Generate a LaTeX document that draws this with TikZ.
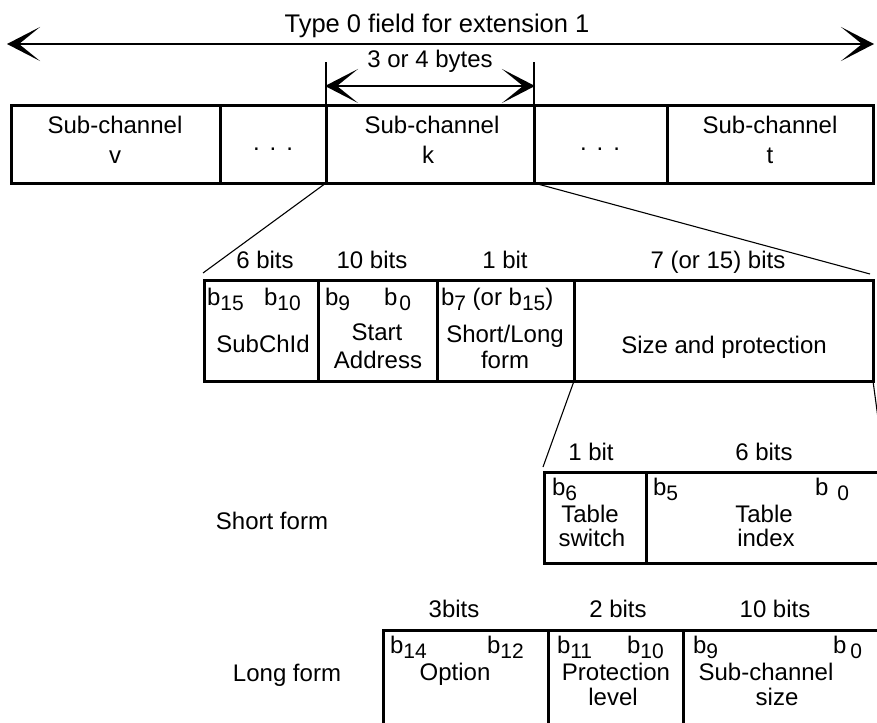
\documentclass[tikz,border=0pt]{standalone}
\usepackage{fontspec}
\setmainfont{Liberation Sans}
\usetikzlibrary{arrows.meta}
\newcommand{\bb}[1]{b\raisebox{-5pt}{\fontsize{21}{21}\selectfont #1}}
\newcommand{\bgap}[2]{b\hspace{#1}\raisebox{-5pt}{\fontsize{21}{21}\selectfont #2}}
\begin{document}
\begin{tikzpicture}[x=1pt,y=-1pt,
  cell/.style={draw, line width=3pt, inner sep=0pt, outer sep=0pt, anchor=north west},
  txt/.style={inner sep=0pt, outer sep=0pt, font=\fontsize{24}{28}\selectfont, anchor=base},
  txtw/.style={txt, anchor=base west},
  thinline/.style={line width=1.1pt},
  dimarrow/.style={line width=2.7pt,
    {Stealth[length=33pt,width=34pt,inset=21pt]}-{Stealth[length=33pt,width=34pt,inset=21pt]}}]
\useasboundingbox (0,0) rectangle (877,722);
\clip (0,0) rectangle (877,722);

% ---- top dimension arrows
\coordinate (a1l) at (7,44);
\coordinate (a1r) at (874,44);
\draw[dimarrow] (a1l) -- (a1r);
\node[txt, font=\fontsize{25.5}{30}\selectfont] (title) at (437,33) {Type 0 field for extension 1};

% ---- row 1
\node[cell, minimum width=209pt, minimum height=77pt] (v)  at (11,106) {};
\node[cell, minimum width=106pt, minimum height=77pt] (d1) at (220,106) {};
\node[cell, minimum width=208pt, minimum height=77pt] (k)  at (326,106) {};
\node[cell, minimum width=133pt, minimum height=77pt] (d2) at (534,106) {};
\node[cell, minimum width=206pt, minimum height=77pt] (t)  at (667,106) {};

\node[txt] (vt1) at (115,134) {Sub-channel};
\node[txt] (vt2) at (115,164) {v};
\node[txt] (d1t) at (273,151) {.\hspace{10pt}.\hspace{10pt}.};
\node[txt] (kt1) at (432,134) {Sub-channel};
\node[txt] (kt2) at (428,164) {k};
\node[txt] (d2t) at (600,151) {.\hspace{10pt}.\hspace{10pt}.};
\node[txt] (tt1) at (770,134) {Sub-channel};
\node[txt] (tt2) at (770,164) {t};

\coordinate (kl) at (326,62);
\coordinate (kr) at (534,62);
\draw[thinline] (k.north west) -- (kl);
\draw[thinline] (k.north east) -- (kr);
\coordinate (a2l) at (325,86);
\coordinate (a2r) at (535,86);
\draw[dimarrow] (a2l) -- (a2r);
\node[txt] (bytes) at (430,68) {3 or 4 bytes};

% ---- row 2
\node[cell, minimum width=114pt, minimum height=101pt] (sid) at (204,280) {};
\node[cell, minimum width=119pt, minimum height=101pt] (sa)  at (318,280) {};
\node[cell, minimum width=137pt, minimum height=101pt] (sl)  at (437,280) {};
\node[cell, minimum width=299pt, minimum height=101pt] (sp)  at (574,280) {};

\coordinate (l1) at (203,273);
\coordinate (r1) at (870,274);
\draw[thinline] (k.south west) -- (l1);
\draw[thinline] (k.south east) -- (r1);

\node[txt] (lb1) at (265,268) {6 bits};
\node[txt] (lb2) at (372,268) {10 bits};
\node[txt] (lb3) at (505,268) {1 bit};
\node[txt] (lb4) at (718,268) {7 (or 15) bits};

\node[txtw] (b15) at (207,305) {\bb{15}};
\node[txtw] (b10) at (264,305) {\bb{10}};
\node[txtw] (b9)  at (325,305) {\bb{9}};
\node[txtw] (b0)  at (384,305) {\bgap{2pt}{0}};
\node[txtw] (b7)  at (441,305) {\bb{7} (or \bb{15})};
\node[txt] (subchid) at (263,352) {SubChId};
\node[txt] (start) at (377,340) {Start};
\node[txt] (addr)  at (378,368) {Address};
\node[txt] (shl)   at (505,342) {Short/Long};
\node[txt] (form)  at (505,368) {form};
\node[txt] (sizep) at (724,353) {Size and protection};

% ---- short form
\node[cell, minimum width=102pt, minimum height=91pt] (ts) at (544,472) {};
\node[cell, minimum width=240pt, minimum height=91pt] (ti) at (646,472) {};
\coordinate (l2) at (543,467);
\coordinate (r2) at (885,470);
\draw[thinline] (sp.south west) -- (l2);
\draw[thinline] (sp.south east) -- (r2);

\node[txt] (sl1) at (591,460) {1 bit};
\node[txt] (sl2) at (764,460) {6 bits};
\node[txtw] (b6) at (552,495) {\bb{6}};
\node[txtw] (b5) at (653,495) {\bb{5}};
\node[txtw] (sb0) at (815,495) {\bgap{9pt}{0}};
\node[txt] (tab1) at (590,522) {Table};
\node[txt] (sw)   at (592,546) {switch};
\node[txt] (tab2) at (764,522) {Table};
\node[txt] (idx)  at (766,546) {index};
\node[txt] (shortf) at (272,529) {Short form};

% ---- long form
\node[cell, minimum width=165pt, minimum height=110pt] (op) at (383,630) {};
\node[cell, minimum width=135pt, minimum height=110pt] (pl) at (548,630) {};
\node[cell, minimum width=220pt, minimum height=110pt] (ss) at (683,630) {};

\node[txt] (ll1) at (454,617) {3bits};
\node[txt] (ll2) at (618,617) {2 bits};
\node[txt] (ll3) at (775,617) {10 bits};
\node[txtw] (b14) at (390,653) {\bb{14}};
\node[txtw] (b12) at (487,653) {\bb{12}};
\node[txtw] (b11) at (557,653) {\bb{11}};
\node[txtw] (lb10) at (627,653) {\bb{10}};
\node[txtw] (lb9) at (693,653) {\bb{9}};
\node[txtw] (lb0) at (833,653) {\bgap{4pt}{0}};
\node[txt] (opt)  at (455,680) {Option};
\node[txt] (prot) at (616,680) {Protection};
\node[txt] (lev)  at (613,705) {level};
\node[txt] (subs) at (766,680) {Sub-channel};
\node[txt] (size) at (777,705) {size};
\node[txt] (longf) at (287,681) {Long form};
\end{tikzpicture}
\end{document}
